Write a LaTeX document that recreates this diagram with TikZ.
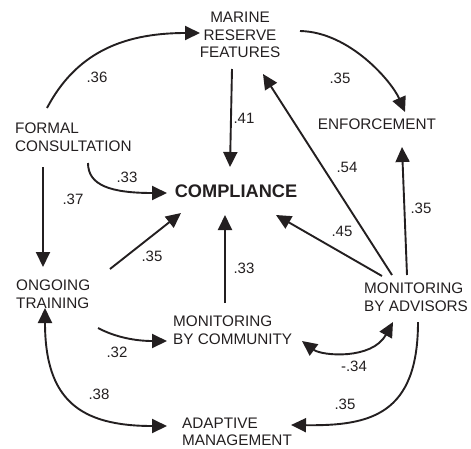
\documentclass[tikz,border=0pt]{standalone}
\usepackage{fontspec}
\setmainfont{Liberation Sans}
\usetikzlibrary{arrows.meta}
\definecolor{ink}{HTML}{231F20}
\begin{document}
\begin{tikzpicture}[x=1pt,y=-1pt,
  lbl/.style={inner sep=0pt,text=ink,font=\fontsize{15.3pt}{17.5pt}\selectfont},
  num/.style={inner sep=0pt,text=ink,font=\fontsize{15pt}{17pt}\selectfont},
  conn/.style={draw=ink,line width=1.9pt,-{Triangle[length=15pt,width=14pt]}},
  dconn/.style={draw=ink,line width=1.9pt,{Triangle[length=15pt,width=14pt]}-{Triangle[length=15pt,width=14pt]}}]
\useasboundingbox (0,0) rectangle (471,448);

% nodes
\node[lbl,align=center] (mrf) at (240,35) {MARINE\\RESERVE\\FEATURES};
\node[lbl] (enf) at (377,124) {ENFORCEMENT};
\node[lbl,align=left,anchor=west] (fc) at (15,137) {FORMAL\\CONSULTATION};
\node[inner sep=0pt,text=ink,font=\fontsize{18.2pt}{20pt}\selectfont\bfseries] (comp) at (236,191) {COMPLIANCE};
\node[lbl,align=left,anchor=west] (ot) at (16,294) {ONGOING\\TRAINING};
\node[lbl,align=left,anchor=west] (mba) at (364,297) {MONITORING\\BY ADVISORS};
\node[lbl,align=left,anchor=west] (mbc) at (173,330) {MONITORING\\BY COMMUNITY};
\node[lbl,align=left,anchor=west] (am) at (182,432) {ADAPTIVE\\MANAGEMENT};

% connectors
\draw[conn] ([shift={(32,-29)}]fc.west) .. controls +(28,-53) and +(-80,0) .. ([shift={(-40,-2)}]mrf.center);
\draw[conn] ([shift={(60,-4)}]mrf.center) .. controls +(50,1) and +(-13,-30) .. ([shift={(28,-12)}]enf.center);
\draw[conn] ([shift={(-8,34)}]mrf.center) -- ([shift={(-6,-24)}]comp.center);
\draw[conn] ([shift={(73,26)}]fc.west) .. controls +(0,22) and +(-57,0) .. ([shift={(-69,2)}]comp.center);
\draw[conn] ([shift={(28,30)}]fc.west) -- ([shift={(27,-27)}]ot.west);
\draw[conn] ([shift={(94,-25)}]ot.west) -- ([shift={(-55,22)}]comp.center);
\draw[conn] ([shift={(52,-27)}]mbc.west) -- ([shift={(-11,24)}]comp.center);
\draw[conn] ([shift={(18,-21)}]mba.west) -- ([shift={(40,24)}]comp.center);
\draw[conn] ([shift={(28,-22)}]mba.west) -- ([shift={(23,39)}]mrf.center);
\draw[conn] ([shift={(43,-22)}]mba.west) -- ([shift={(25,23)}]enf.center);
\draw[conn] ([shift={(82,34)}]ot.west) .. controls +(17,9) and +(-32,0) .. ([shift={(-6,11)}]mbc.west);
\draw[dconn] ([shift={(129,11)}]mbc.west) .. controls +(20,15) and +(-21,38) .. ([shift={(29,25)}]mba.west);
\draw[dconn] ([shift={(29,14)}]ot.west) .. controls +(0,92) and +(-87,0) .. ([shift={(-15,-6)}]am.west);
\draw[conn] ([shift={(54,25)}]mba.west) .. controls +(0,93) and +(79,1) .. ([shift={(109,-7)}]am.west);

% labels
\node[num] (l1) at (97,77) {.36};
\node[num] (l2) at (340,78) {.35};
\node[num] (l3) at (244,118) {.41};
\node[num] (l4) at (127,177) {.33};
\node[num] (l5) at (73,199) {.37};
\node[num] (l6) at (347,167) {.54};
\node[num] (l7) at (421,208) {.35};
\node[num] (l8) at (342,231) {.45};
\node[num] (l9) at (152,256) {.35};
\node[num] (l10) at (244,268) {.33};
\node[num] (l11) at (117,352) {.32};
\node[num] (l12) at (354,366) {-.34};
\node[num] (l13) at (99,394) {.38};
\node[num] (l14) at (345,404) {.35};
\end{tikzpicture}
\end{document}
